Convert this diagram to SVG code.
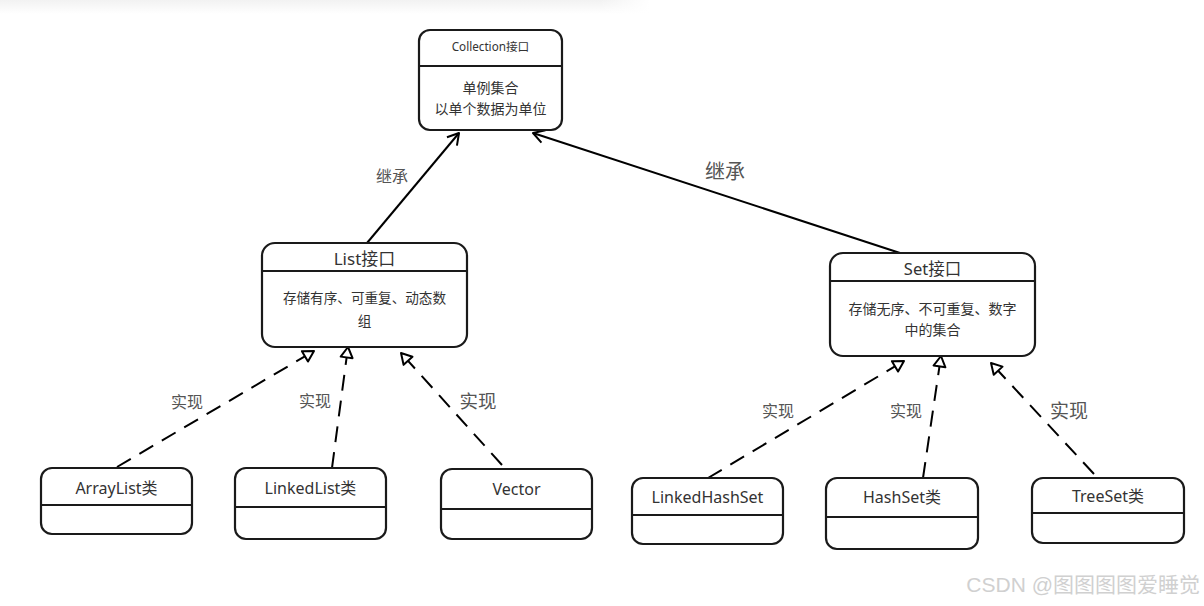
<svg xmlns="http://www.w3.org/2000/svg" width="1204" height="606" viewBox="0 0 1204 606">
<defs>
<linearGradient id="topfade" x1="0" y1="0" x2="0" y2="1">
<stop offset="0" stop-color="#f2f2f2"/>
<stop offset="1" stop-color="#ffffff"/>
</linearGradient>
<linearGradient id="sidefade" x1="0" y1="0" x2="1" y2="0">
<stop offset="0" stop-color="#ffffff" stop-opacity="0"/>
<stop offset="1" stop-color="#ffffff" stop-opacity="1"/>
</linearGradient>
<marker id="open" markerWidth="16" markerHeight="16" refX="13" refY="8" orient="auto" markerUnits="userSpaceOnUse">
<path d="M2,1.5 L13,8 L2,14.5" fill="none" stroke="#000" stroke-width="2" stroke-linejoin="round"/>
</marker>
<marker id="tri" markerWidth="16" markerHeight="16" refX="13" refY="8" orient="auto" markerUnits="userSpaceOnUse">
<path d="M2.5,2 L13,8 L2.5,14 Z" fill="#fff" stroke="#000" stroke-width="2" stroke-linejoin="round"/>
</marker>
<style>
.box{fill:#fff;stroke:#1a1a1a;stroke-width:2.2}
.div{stroke:#1a1a1a;stroke-width:2.2}
.t{font-family:"Noto Sans","Noto Sans CJK SC",sans-serif;fill:#333;text-anchor:middle}
.lbl{font-family:"Noto Sans","Noto Sans CJK SC",sans-serif;fill:#555;text-anchor:middle}
.solid{stroke:#000;stroke-width:2;fill:none}
.dash{stroke:#000;stroke-width:2;fill:none;stroke-dasharray:16 10}
</style>
</defs>
<rect width="1204" height="606" fill="#fff"/>
<rect x="0" y="0" width="650" height="14" fill="url(#topfade)"/>
<rect x="600" y="0" width="50" height="14" fill="url(#sidefade)"/>

<g id="connectors">
<line class="solid" x1="367" y1="243" x2="459" y2="133" marker-end="url(#open)"/>
<line class="solid" x1="900" y1="253" x2="533" y2="133" marker-end="url(#open)"/>
<line class="dash" x1="117" y1="467" x2="314" y2="351" marker-end="url(#tri)"/>
<line class="dash" x1="332" y1="468" x2="348" y2="347" marker-end="url(#tri)"/>
<line class="dash" x1="502" y1="465" x2="401" y2="353" marker-end="url(#tri)"/>
<line class="dash" x1="708" y1="478" x2="904" y2="361" marker-end="url(#tri)"/>
<line class="dash" x1="923" y1="478" x2="941" y2="356" marker-end="url(#tri)"/>
<line class="dash" x1="1094" y1="474" x2="991" y2="363" marker-end="url(#tri)"/>
<text class="lbl" x="392" y="182" font-size="16">继承</text>
<text class="lbl" x="725" y="179" font-size="20">继承</text>
<text class="lbl" x="187" y="408" font-size="16">实现</text>
<text class="lbl" x="315" y="407" font-size="16">实现</text>
<text class="lbl" x="478" y="408" font-size="18.5">实现</text>
<text class="lbl" x="778" y="417" font-size="16">实现</text>
<text class="lbl" x="906" y="417" font-size="16">实现</text>
<text class="lbl" x="1069" y="418" font-size="19">实现</text>
</g>

<g id="collection">
<rect class="box" x="419" y="30" width="143" height="100" rx="11"/>
<line class="div" x1="419" y1="66" x2="562" y2="66"/>
<text class="t" x="490.5" y="51" font-size="11.7">Collection接口</text>
<text class="t" x="490.5" y="93" font-size="14">单例集合</text>
<text class="t" x="490.5" y="114" font-size="14">以单个数据为单位</text>
</g>

<g id="list">
<rect class="box" x="262" y="243" width="205" height="104" rx="13"/>
<line class="div" x1="262" y1="271" x2="467" y2="271"/>
<text class="t" x="364.5" y="265" font-size="17">List接口</text>
<text class="t" x="364.5" y="303" font-size="13.6">存储有序、可重复、动态数</text>
<text class="t" x="364.5" y="326" font-size="13.6">组</text>
</g>

<g id="set">
<rect class="box" x="830" y="253" width="205" height="103" rx="13"/>
<line class="div" x1="830" y1="281" x2="1035" y2="281"/>
<text class="t" x="932.5" y="275" font-size="16.5">Set接口</text>
<text class="t" x="932.5" y="314" font-size="14">存储无序、不可重复、数字</text>
<text class="t" x="932.5" y="335" font-size="14">中的集合</text>
</g>

<g id="arraylist">
<rect class="box" x="41" y="468" width="151" height="66" rx="11"/>
<line class="div" x1="41" y1="505" x2="192" y2="505"/>
<text class="t" x="116.5" y="494" font-size="16">ArrayList类</text>
</g>

<g id="linkedlist">
<rect class="box" x="235" y="468" width="151" height="71" rx="11"/>
<line class="div" x1="235" y1="507" x2="386" y2="507"/>
<text class="t" x="310.5" y="494" font-size="16">LinkedList类</text>
</g>

<g id="vector">
<rect class="box" x="441" y="469" width="151" height="70" rx="11"/>
<line class="div" x1="441" y1="509" x2="592" y2="509"/>
<text class="t" x="516.5" y="495" font-size="16">Vector</text>
</g>

<g id="linkedhashset">
<rect class="box" x="632" y="478" width="151" height="66" rx="11"/>
<line class="div" x1="632" y1="515" x2="783" y2="515"/>
<text class="t" x="707.5" y="503" font-size="16">LinkedHashSet</text>
</g>

<g id="hashset">
<rect class="box" x="826" y="478" width="152" height="71" rx="11"/>
<line class="div" x1="826" y1="517" x2="978" y2="517"/>
<text class="t" x="902" y="503" font-size="16">HashSet类</text>
</g>

<g id="treeset">
<rect class="box" x="1032" y="478" width="152" height="65" rx="11"/>
<line class="div" x1="1032" y1="513" x2="1184" y2="513"/>
<text class="t" x="1108" y="502" font-size="16">TreeSet类</text>
</g>

<text x="1200" y="592" font-size="21" font-family="Liberation Sans,'Noto Sans CJK SC',sans-serif" fill="#d0d0d0" text-anchor="end">CSDN @图图图图爱睡觉</text>
</svg>
